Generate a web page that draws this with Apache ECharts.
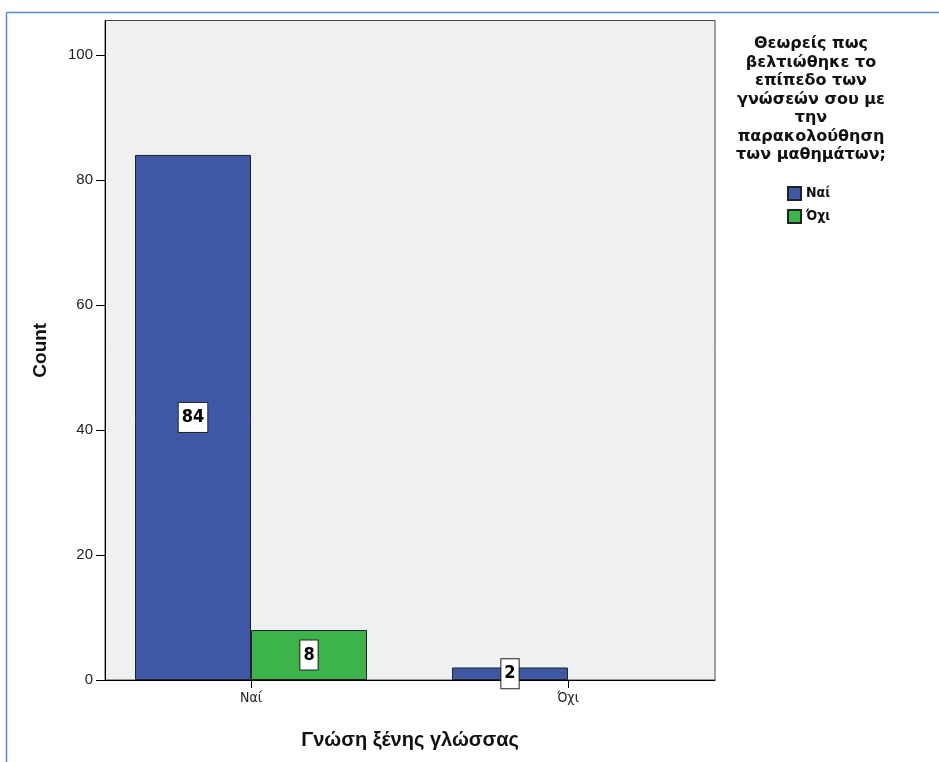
<!DOCTYPE html>
<html>
<head>
<meta charset="utf-8">
<script src="https://cdn.jsdelivr.net/npm/echarts@6/dist/echarts.min.js"></script>
<style>
html,body{margin:0;padding:0;background:#fff;}
#chart{width:939px;height:762px;}
</style>
</head>
<body>
<div id="chart"></div>
<script>
const categories = ['Ναί', 'Όχι'];
const seriesNames = ['Ναί', 'Όχι'];
const valuesNai = [84, 2];
const valuesOxi = [8, 0];
const yTicks = [0, 20, 40, 60, 80, 100];
const legendTitle = 'Θεωρείς πως\nβελτιώθηκε το\nεπίπεδο των\nγνώσεών σου με\nτην\nπαρακολούθηση\nτων μαθημάτων;';
const xTitle = 'Γνώση ξένης γλώσσας';
const yTitle = 'Count';

const colors = ['#3f58a6', '#3db44b'];
const narrow = "'Liberation Sans Narrow', 'Arial Narrow', 'DejaVu Sans Condensed', 'Liberation Sans', Arial, sans-serif";

function buildData(vals) {
  return vals.map((v, i) => v > 0
    ? { value: [i, v] }
    : { value: [i, v], label: { show: false }, itemStyle: { borderWidth: 0 } });
}

const labelStyle = {
  show: true,
  position: 'inside',
  formatter: p => String(p.value[1]),
  color: '#000',
  fontFamily: narrow,
  fontWeight: 'bold',
  fontSize: 18,
  backgroundColor: '#fff',
  borderColor: '#222',
  borderWidth: 1,
  padding: [6, 3, 5, 3]
};

const chart = echarts.init(document.getElementById('chart'), null, { renderer: 'canvas' });
chart.setOption({
  animation: false,
  backgroundColor: '#fff',
  title: {
    text: legendTitle,
    left: 806,
    top: 30,
    textAlign: 'center',
    textStyle: {
      fontFamily: "'DejaVu Sans', sans-serif",
      fontWeight: 'bold',
      fontSize: 16,
      lineHeight: 18.5,
      color: '#111'
    }
  },
  legend: {
    orient: 'vertical',
    left: 782,
    top: 181,
    itemWidth: 13,
    itemHeight: 13,
    itemGap: 8,
    icon: 'rect',
    data: seriesNames,
    textStyle: {
      fontFamily: narrow,
      fontWeight: 'bold',
      fontSize: 14,
      color: '#111'
    }
  },
  grid: {
    left: 105,
    right: 224,
    top: 20.5,
    bottom: 82,
    show: true,
    backgroundColor: '#eff0f2',
    borderColor: '#444',
    borderWidth: 1
  },
  xAxis: {
    type: 'value',
    min: -0.4606,
    max: 1.4637,
    name: xTitle,
    nameLocation: 'middle',
    nameGap: 50,
    nameTextStyle: {
      fontFamily: "'Liberation Sans', Arial, sans-serif",
      fontWeight: 'bold',
      fontSize: 20,
      color: '#111'
    },
    splitLine: { show: false },
    axisLine: { show: true, onZero: false, lineStyle: { color: '#000', width: 1 } },
    axisTick: { show: true, customValues: [0, 1], length: 8, lineStyle: { color: '#000' } },
    axisLabel: {
      customValues: [0, 1],
      formatter: v => categories[Math.round(v)],
      fontFamily: narrow,
      fontSize: 14,
      color: '#222',
      margin: 11
    }
  },
  yAxis: {
    type: 'value',
    min: 0,
    max: 105.5,
    interval: 20,
    name: yTitle,
    nameLocation: 'middle',
    nameGap: 55,
    nameTextStyle: {
      fontFamily: "'Liberation Sans', Arial, sans-serif",
      fontWeight: 'bold',
      fontSize: 19,
      color: '#111'
    },
    splitLine: { show: false },
    axisLine: { show: true, onZero: false, lineStyle: { color: '#000', width: 1 } },
    axisTick: { show: true, customValues: yTicks, length: 9, lineStyle: { color: '#000' } },
    axisLabel: {
      customValues: yTicks,
      fontFamily: "'Liberation Sans', Arial, sans-serif",
      fontSize: 15,
      color: '#222',
      margin: 12
    }
  },
  series: [
    {
      name: seriesNames[0],
      type: 'bar',
      barWidth: 116,
      barGap: '0%',
      data: buildData(valuesNai),
      itemStyle: { color: colors[0], borderColor: '#222', borderWidth: 1 },
      label: labelStyle
    },
    {
      name: seriesNames[1],
      type: 'bar',
      barWidth: 116,
      barGap: '0%',
      data: buildData(valuesOxi),
      itemStyle: { color: colors[1], borderColor: '#222', borderWidth: 1 },
      label: labelStyle
    }
  ],
  graphic: [
    { type: 'line', shape: { x1: 6.5, y1: 12.5, x2: 939, y2: 12.5 }, style: { stroke: '#5b8bd0', lineWidth: 1.5 }, silent: true },
    { type: 'line', shape: { x1: 6.5, y1: 12.5, x2: 6.5, y2: 762 }, style: { stroke: '#5b8bd0', lineWidth: 1.5 }, silent: true }
  ]
});
</script>
</body>
</html>
